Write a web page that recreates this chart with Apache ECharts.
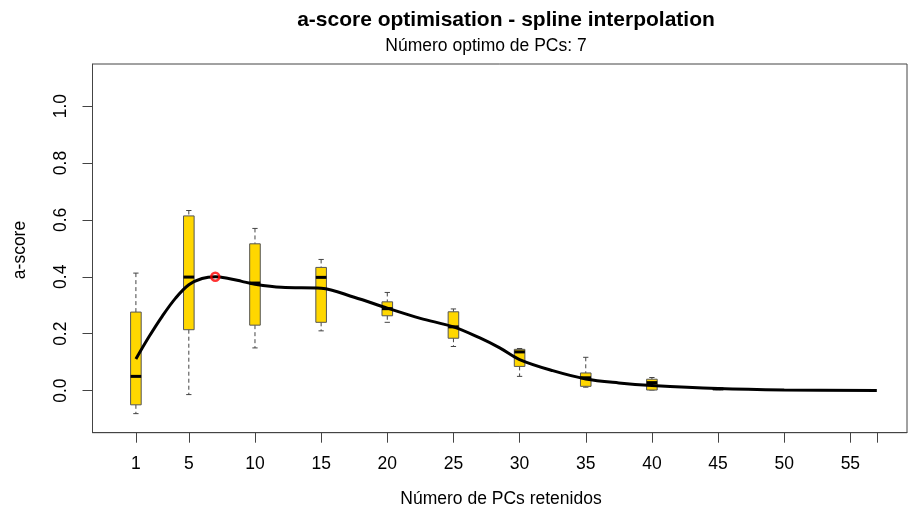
<!DOCTYPE html>
<html>
<head>
<meta charset="utf-8">
<title>a-score optimisation</title>
<script src="https://cdn.jsdelivr.net/npm/echarts@6/dist/echarts.min.js"></script>
<style>
  html, body { margin: 0; padding: 0; background: #ffffff; }
  #chart { width: 909px; height: 510px; }
</style>
</head>
<body>
<div id="chart"></div>
<script>
// Number of retained PCs at which the a-score was simulated
const positions    = [1, 5, 10, 15, 20, 25, 30, 35, 40, 45];
// Boxplot statistics of the a-score at each position
const whiskerLow   = [-0.081, -0.014, 0.150, 0.210, 0.240, 0.155, 0.050, 0.012, 0.002, 0.003];
const quartile1    = [-0.050, 0.214, 0.230, 0.240, 0.263, 0.184, 0.085, 0.015, 0.002, 0.004];
const medians      = [0.050, 0.399, 0.378, 0.398, 0.288, 0.224, 0.136, 0.045, 0.028, 0.006];
const quartile3    = [0.276, 0.614, 0.516, 0.433, 0.312, 0.277, 0.145, 0.062, 0.040, 0.008];
const whiskerHigh  = [0.413, 0.633, 0.570, 0.461, 0.345, 0.287, 0.148, 0.117, 0.046, 0.009];

// Knots of the spline fitted through the mean a-score
const splineX = [1, 2, 3, 4, 5, 6, 7, 8, 9, 10, 12, 15, 17.5, 20, 22.5, 25, 27, 28.5, 30, 32.5, 35, 37.5, 40, 45, 50, 57];
const splineY = [0.111, 0.190, 0.262, 0.325, 0.372, 0.394, 0.400, 0.394, 0.384, 0.374, 0.363, 0.360, 0.328, 0.290, 0.254, 0.224, 0.185, 0.150, 0.109, 0.070, 0.041, 0.027, 0.018, 0.007, 0.002, 0.000];

// Optimal number of PCs and its a-score
const optimumPC = 7;
const optimumScore = 0.400;

// Axis ticks and labels
const xTickValues  = [1, 5, 10, 15, 20, 25, 30, 35, 40, 45, 50, 55, 57];
const xLabelValues = [1, 5, 10, 15, 20, 25, 30, 35, 40, 45, 50, 55];
const yTickValues  = [0, 0.2, 0.4, 0.6, 0.8, 1.0];

const FONT = '"Liberation Sans", Arial, Helvetica, sans-serif';
const AXIS_COLOR = '#444444';
const BASE_SIZE = 17.5;

const boxData = positions.map((p, i) => [p, whiskerLow[i], quartile1[i], medians[i], quartile3[i], whiskerHigh[i]]);
const splineData = splineX.map((x, i) => [x, splineY[i]]);

function renderBox(params, api) {
  const x = api.value(0);
  const lo = api.coord([x, api.value(1)]);
  const q1 = api.coord([x, api.value(2)]);
  const md = api.coord([x, api.value(3)]);
  const q3 = api.coord([x, api.value(4)]);
  const hi = api.coord([x, api.value(5)]);
  const halfBox = api.size([0.8, 0])[0] / 2;
  const halfCap = halfBox / 2;
  const cx = lo[0];
  const dashed = { stroke: AXIS_COLOR, lineWidth: 1, lineDash: [4, 3] };
  const solid = { stroke: AXIS_COLOR, lineWidth: 1 };
  return {
    type: 'group',
    children: [
      { type: 'line', shape: { x1: cx, y1: hi[1], x2: cx, y2: q3[1] }, style: dashed },
      { type: 'line', shape: { x1: cx, y1: q1[1], x2: cx, y2: lo[1] }, style: dashed },
      { type: 'line', shape: { x1: cx - halfCap, y1: hi[1], x2: cx + halfCap, y2: hi[1] }, style: solid },
      { type: 'line', shape: { x1: cx - halfCap, y1: lo[1], x2: cx + halfCap, y2: lo[1] }, style: solid },
      { type: 'rect', shape: { x: cx - halfBox, y: q3[1], width: halfBox * 2, height: q1[1] - q3[1] },
        style: { fill: '#FFD700', stroke: '#555555', lineWidth: 1 } },
      { type: 'line', shape: { x1: cx - halfBox, y1: md[1], x2: cx + halfBox, y2: md[1] },
        style: { stroke: '#000000', lineWidth: 3 } }
    ]
  };
}

const chart = echarts.init(document.getElementById('chart'), null, { renderer: 'canvas' });

chart.setOption({
  animation: false,
  backgroundColor: '#ffffff',
  grid: {
    left: 92.5, right: 2, top: 64, bottom: 77.3,
    show: true, borderColor: AXIS_COLOR, borderWidth: 1,
    containLabel: false, outerBoundsMode: 'none'
  },
  xAxis: {
    type: 'value',
    min: -2.28, max: 59.28,
    splitLine: { show: false },
    axisLine: { show: true, onZero: false, lineStyle: { color: AXIS_COLOR, width: 1 } },
    axisTick: { show: true, length: 10, customValues: xTickValues, lineStyle: { color: AXIS_COLOR } },
    axisLabel: { show: true, customValues: xLabelValues, margin: 22, color: '#000', fontSize: BASE_SIZE, fontFamily: FONT }
  },
  yAxis: {
    type: 'value',
    min: -0.148, max: 1.148,
    splitLine: { show: false },
    axisLine: { show: true, onZero: false, lineStyle: { color: AXIS_COLOR, width: 1 } },
    axisTick: { show: true, length: 10, customValues: yTickValues, lineStyle: { color: AXIS_COLOR } },
    axisLabel: {
      show: true, customValues: yTickValues, rotate: 90, margin: 22,
      color: '#000', fontSize: BASE_SIZE, fontFamily: FONT,
      formatter: v => v.toFixed(1)
    }
  },
  graphic: [
    { type: 'text', x: 506, y: 20,
      style: { text: 'a-score optimisation - spline interpolation', fill: '#000', font: 'bold 21px ' + FONT, align: 'center', verticalAlign: 'middle' } },
    { type: 'text', x: 486, y: 46,
      style: { text: 'Número optimo de PCs: 7', fill: '#000', font: BASE_SIZE + 'px ' + FONT, align: 'center', verticalAlign: 'middle' } },
    { type: 'text', x: 501, y: 499,
      style: { text: 'Número de PCs retenidos', fill: '#000', font: BASE_SIZE + 'px ' + FONT, align: 'center', verticalAlign: 'middle' } },
    { type: 'text', x: 20, y: 250, rotation: Math.PI / 2,
      style: { text: 'a-score', fill: '#000', font: BASE_SIZE + 'px ' + FONT, align: 'center', verticalAlign: 'middle' } }
  ],
  series: [
    {
      type: 'custom',
      name: 'a-score',
      renderItem: renderBox,
      data: boxData,
      encode: { x: 0, y: [1, 2, 3, 4, 5] },
      z: 2
    },
    {
      type: 'line',
      name: 'spline',
      data: splineData,
      smooth: 0.35,
      showSymbol: false,
      symbol: 'none',
      lineStyle: { color: '#000000', width: 3 },
      z: 3
    },
    {
      type: 'scatter',
      name: 'optimum',
      data: [[optimumPC, optimumScore]],
      symbol: 'circle',
      symbolSize: 8,
      itemStyle: { color: 'rgba(0,0,0,0)', borderColor: '#FF0000', borderWidth: 2.5 },
      z: 4
    }
  ]
});
</script>
</body>
</html>
